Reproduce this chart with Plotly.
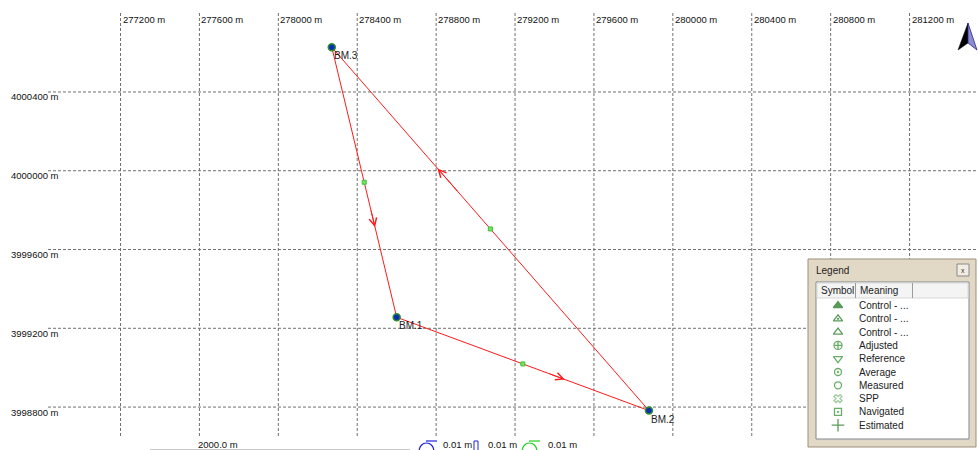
import plotly.graph_objects as go

# ---------------- data ----------------
station_names = ["BM.3", "BM.1", "BM.2"]
station_east = [278271, 278600, 279879]
station_north = [4000627, 3999256, 3998782]
traverse_order = ["BM.3", "BM.1", "BM.2", "BM.3"]

east_ticks = [277200, 277600, 278000, 278400, 278800, 279200,
              279600, 280000, 280400, 280800, 281200]
north_ticks = [3998800, 3999200, 3999600, 4000000, 4000400]

east_range = [276589, 281547]
north_range = [3998582, 4000867]

legend_meanings = ["Control - ...", "Control - ...", "Control - ...", "Adjusted",
                   "Reference", "Average", "Measured", "SPP", "Navigated", "Estimated"]
legend_symbols = ["triangle-up", "triangle-up-open-dot", "triangle-up-open",
                  "circle-cross-open", "triangle-down-open", "circle-open-dot",
                  "circle-open", "x-open", "square-open-dot", "cross-thin-open"]
legend_sizes = [8, 8, 8, 8, 8, 7, 7, 7, 7, 9]
legend_colors = ["#156f15", "#156f15", "#156f15", "#2b8a2b", "#2b8a2b", "#2b8a2b",
                 "#2b8a2b", "#6fb26f", "#2b8a2b", "#156f15"]

scale_bar_label = "2000.0 m"
error_labels = ["0.01 m", "0.01 m", "0.01 m"]

FONT = "Liberation Sans"
TXT = "#111111"

# ---------------- figure ----------------
fig = go.Figure()
idx = {n: i for i, n in enumerate(station_names)}
tx = [station_east[idx[n]] for n in traverse_order]
ty = [station_north[idx[n]] for n in traverse_order]

# traverse lines
fig.add_trace(go.Scatter(x=tx, y=ty, mode="lines",
                         line=dict(color="#ff1a1a", width=1), hoverinfo="skip",
                         showlegend=False))

# midpoints of each leg
mx = [(tx[i] + tx[i + 1]) / 2 for i in range(len(tx) - 1)]
my = [(ty[i] + ty[i + 1]) / 2 for i in range(len(ty) - 1)]
fig.add_trace(go.Scatter(x=mx, y=my, mode="markers",
                         marker=dict(symbol="square", size=4, color="#7be05a",
                                     line=dict(color="#3cc23c", width=1)),
                         hoverinfo="skip", showlegend=False))

# stations
fig.add_trace(go.Scatter(x=station_east, y=station_north, mode="markers",
                         marker=dict(symbol="circle", size=7, color="#0a2fb0",
                                     line=dict(color="#2f8f2f", width=1.5)),
                         hoverinfo="skip", showlegend=False))

annotations = []
shapes = []

# direction arrows at 2/3 along each leg
for i in range(len(tx) - 1):
    f_tip, f_tail = 2 / 3, 0.60
    x_tip = tx[i] + (tx[i + 1] - tx[i]) * f_tip
    y_tip = ty[i] + (ty[i + 1] - ty[i]) * f_tip
    x_tail = tx[i] + (tx[i + 1] - tx[i]) * f_tail
    y_tail = ty[i] + (ty[i + 1] - ty[i]) * f_tail
    annotations.append(dict(x=x_tip, y=y_tip, xref="x", yref="y",
                            ax=x_tail, ay=y_tail, axref="x", ayref="y",
                            text="", showarrow=True, arrowhead=5, arrowsize=1.5,
                            arrowwidth=1, arrowcolor="#ff1a1a"))

# station labels
for n, e, nn in zip(station_names, station_east, station_north):
    annotations.append(dict(x=e, y=nn, xref="x", yref="y", text=n, showarrow=False,
                            xanchor="left", yanchor="top", xshift=0, yshift=-1,
                            font=dict(family=FONT, size=10, color="#222222")))

# grid lines (dashed) and tick labels
for t in east_ticks:
    shapes.append(dict(type="line", xref="x", yref="y2", x0=t, x1=t, y0=13, y1=438,
                       line=dict(color="#707070", width=1, dash="3px,2px"), layer="below"))
    annotations.append(dict(x=t, y=19, xref="x", yref="y2", text=f"{t} m", showarrow=False,
                            xanchor="left", yanchor="middle", xshift=0,
                            font=dict(family=FONT, size=9.5, color=TXT)))
for t in north_ticks:
    shapes.append(dict(type="line", xref="x2", yref="y", x0=48, x1=978, y0=t, y1=t,
                       line=dict(color="#707070", width=1, dash="3px,2px"), layer="below"))
    annotations.append(dict(x=9, y=t, xref="x2", yref="y", text=f"{t} m", showarrow=False,
                            xanchor="left", yanchor="middle", yshift=-5,
                            font=dict(family=FONT, size=9.5, color=TXT)))

# ---------------- north arrow ----------------
shapes.append(dict(type="path", xref="x2", yref="y2",
                   path="M968,23 L958,50 L968,43 Z", fillcolor="#000000",
                   line=dict(color="#000000", width=0.5)))
shapes.append(dict(type="path", xref="x2", yref="y2",
                   path="M968,23 L968,43 L977,50 Z", fillcolor="#8c8cd0",
                   line=dict(color="#2a2a90", width=0.8)))

# ---------------- bottom scale / error items ----------------
shapes.append(dict(type="line", xref="x2", yref="y2", x0=150, x1=410, y0=449.5, y1=449.5,
                   line=dict(color="#c8c8c8", width=1)))
annotations.append(dict(x=196, y=444.5, xref="x2", yref="y2", text=scale_bar_label,
                        showarrow=False, xanchor="left", yanchor="middle",
                        font=dict(family=FONT, size=9.5, color=TXT)))
shapes.append(dict(type="path", xref="x2", yref="y2",
                   path="M419,452 C419,440 434,440 434,452",
                   line=dict(color="#2020e0", width=1.2)))
shapes.append(dict(type="line", xref="x2", yref="y2", x0=426, x1=437, y0=441, y1=441,
                   line=dict(color="#2020e0", width=1.2)))
shapes.append(dict(type="path", xref="x2", yref="y2",
                   path="M474,452 L474,441 L478,441 L478,452",
                   line=dict(color="#2020e0", width=1)))
shapes.append(dict(type="path", xref="x2", yref="y2",
                   path="M522,452 C522,440 537,440 537,452",
                   line=dict(color="#20d020", width=1.2)))
shapes.append(dict(type="line", xref="x2", yref="y2", x0=529, x1=540, y0=441, y1=441,
                   line=dict(color="#20d020", width=1.2)))
for lx, lab in zip([441, 486, 546], error_labels):
    annotations.append(dict(x=lx, y=444.5, xref="x2", yref="y2", text=lab, showarrow=False,
                            xanchor="left", yanchor="middle",
                            font=dict(family=FONT, size=9.5, color=TXT)))

# ---------------- legend panel ----------------
BL = "below"
shapes.append(dict(type="rect", xref="x2", yref="y2", x0=808, x1=976, y0=259, y1=447,
                   fillcolor="#e2d8c6", line=dict(color="#9c8f7a", width=1), layer=BL))
shapes.append(dict(type="rect", xref="x2", yref="y2", x0=957, x1=969, y0=264, y1=276,
                   fillcolor="#f1ece4", line=dict(color="#8a8a8a", width=1), layer=BL))
annotations.append(dict(x=963, y=270, xref="x2", yref="y2", text="x", showarrow=False,
                        xanchor="center", yanchor="middle",
                        font=dict(family=FONT, size=7, color="#333333")))
annotations.append(dict(x=814, y=270.5, xref="x2", yref="y2", text="Legend", showarrow=False,
                        xanchor="left", yanchor="middle",
                        font=dict(family=FONT, size=10, color="#222222")))
shapes.append(dict(type="rect", xref="x2", yref="y2", x0=816, x1=969, y0=282, y1=439,
                   fillcolor="#ffffff", line=dict(color="#828790", width=1), layer=BL))
shapes.append(dict(type="rect", xref="x2", yref="y2", x0=817, x1=968, y0=283, y1=298,
                   fillcolor="#f4f4f4", line=dict(color="#d8d8d8", width=1), layer=BL))
for sx in [855.5, 912.5]:
    shapes.append(dict(type="line", xref="x2", yref="y2", x0=sx, x1=sx, y0=283, y1=298,
                       line=dict(color="#9a9a9a", width=1), layer=BL))
for hx, htxt in zip([819, 858], ["Symbol", "Meaning"]):
    annotations.append(dict(x=hx, y=290.5, xref="x2", yref="y2", text=htxt, showarrow=False,
                            xanchor="left", yanchor="middle",
                            font=dict(family=FONT, size=10, color="#222222")))

row_y = [305.5 + 13.3 * i for i in range(len(legend_meanings))]
fig.add_trace(go.Scatter(x=[838] * len(row_y), y=row_y, xaxis="x2", yaxis="y2",
                         mode="markers",
                         marker=dict(symbol=legend_symbols, size=legend_sizes,
                                     color=legend_colors,
                                     line=dict(color=legend_colors, width=1.3)),
                         hoverinfo="skip", showlegend=False))
for ry, m in zip(row_y, legend_meanings):
    annotations.append(dict(x=857, y=ry, xref="x2", yref="y2", text=m, showarrow=False,
                            xanchor="left", yanchor="middle",
                            font=dict(family=FONT, size=10, color="#222222")))

fig.update_layout(
    width=978, height=450, autosize=False,
    margin=dict(l=0, r=0, t=0, b=0),
    paper_bgcolor="#ffffff", plot_bgcolor="#ffffff",
    showlegend=False,
    xaxis=dict(range=east_range, visible=False, showgrid=False, zeroline=False, fixedrange=True),
    yaxis=dict(range=north_range, visible=False, showgrid=False, zeroline=False, fixedrange=True),
    xaxis2=dict(range=[0, 978], overlaying="x", anchor="y2", visible=False,
                showgrid=False, zeroline=False, fixedrange=True),
    yaxis2=dict(range=[450, 0], overlaying="y", anchor="x2", visible=False,
                showgrid=False, zeroline=False, fixedrange=True),
    shapes=shapes, annotations=annotations,
)

fig.write_html("out.html", config={"displayModeBar": False},
               post_script="document.body.style.margin='0px';document.body.style.overflow='hidden';")
